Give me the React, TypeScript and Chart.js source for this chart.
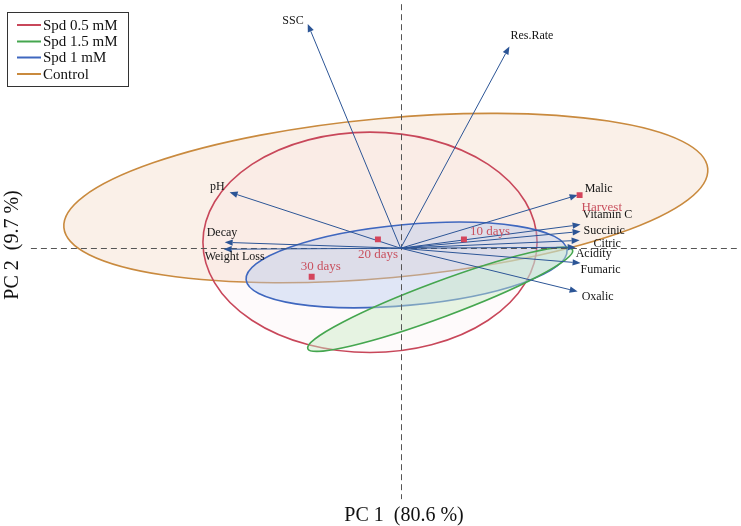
import { useEffect, useRef } from 'react';
import { Chart, registerables } from 'chart.js';

Chart.register(...registerables);

const W = 741;
const H = 526;

// Axis ranges (PC units)
const X_MIN = -4.01;
const X_MAX = 3.4;
const Y_MIN = -2.78;
const Y_MAX = 2.48;

// Variable loadings (arrows)
const variableNames = ['SSC', 'Res.Rate', 'pH', 'Decay', 'Weight Loss', 'Malic', 'Vitamin C', 'Succinic', 'Citric', 'Acidity', 'Fumaric', 'Oxalic'];
const loadingPC1 = [-0.94, 1.1, -1.73, -1.78, -1.79, 1.79, 1.82, 1.82, 1.81, 1.77, 1.82, 1.79];
const loadingPC2 = [2.28, 2.05, 0.57, 0.06, -0.01, 0.54, 0.24, 0.17, 0.08, 0.01, -0.15, -0.44];

// Sample scores
const sampleNames = ['Harvest', '10 days', '20 days', '30 days'];
const scorePC1 = [1.81, 0.64, -0.23, -0.9];
const scorePC2 = [0.54, 0.09, 0.09, -0.29];

// Group confidence ellipses
const groupNames = ['Spd 0.5 mM', 'Spd 1.5 mM', 'Spd 1 mM', 'Control'];
const ellipseCenterX = [-0.31, 0.4, 0.06, -0.15];
const ellipseCenterY = [0.06, -0.52, -0.17, 0.51];
const ellipseSemiMajor = [1.69, 1.43, 1.63, 3.27];
const ellipseSemiMinor = [1.12, 0.18, 0.41, 0.81];
const ellipseAngleDeg = [0, 20.5, 5.3, 5.26];

// Axis titles
const xTitle = 'PC 1  (80.6 %)';
const yTitle = 'PC 2  (9.7 %)';

// ---- styles ----
const groupStroke = ['#c8475a', '#45a64f', '#3f67bf', '#c98a3e'];
const groupFill = ['rgba(240,190,195,0.07)', 'rgba(200,232,195,0.45)', 'rgba(175,198,238,0.38)', 'rgba(245,222,205,0.45)'];
const ellipseDrawOrder = [3, 0, 2, 1];
const arrowColor = '#2c5596';
const scoreColor = '#d4455c';
const scoreLabelColor = '#c9515f';
const FONT = '"Liberation Serif", "DejaVu Serif", serif';

// label placement: [align, dx, dy] in px relative to arrow tip / point
const varLabelPos: [CanvasTextAlign, number, number][] = [
  ['right', -4, -3],
  ['left', 1, -11],
  ['right', -5, -5],
  ['left', -18, -9],
  ['left', -19, 8],
  ['left', 7, -6],
  ['left', 2, -10],
  ['left', 3, -1],
  ['left', 14, 3],
  ['left', 0, 7],
  ['left', 0, 7],
  ['left', 4, 5],
];
const scoreLabelPos: [CanvasTextAlign, number, number][] = [
  ['left', 2, 12],
  ['left', 6, -8],
  ['center', 0, 15],
  ['center', 9, -10],
];

const axisPlugin = {
  id: 'biplot',
  beforeDatasetsDraw(chart: any) {
    const { ctx, scales } = chart;
    const xs = scales.x;
    const ys = scales.y;
    const px = (v: number) => xs.getPixelForValue(v);
    const py = (v: number) => ys.getPixelForValue(v);
    const ux = px(1) - px(0);
    const uy = py(0) - py(1);

    // ellipses
    for (const i of ellipseDrawOrder) {
      ctx.save();
      ctx.beginPath();
      ctx.translate(px(ellipseCenterX[i]), py(ellipseCenterY[i]));
      ctx.scale(ux, -uy);
      ctx.rotate((ellipseAngleDeg[i] * Math.PI) / 180);
      ctx.ellipse(0, 0, ellipseSemiMajor[i], ellipseSemiMinor[i], 0, 0, Math.PI * 2);
      ctx.restore();
      ctx.save();
      ctx.fillStyle = groupFill[i];
      ctx.fill();
      ctx.lineWidth = 1.6;
      ctx.strokeStyle = groupStroke[i];
      ctx.stroke();
      ctx.restore();
    }

    // dashed zero axes
    ctx.save();
    ctx.setLineDash([6, 4]);
    ctx.strokeStyle = '#555';
    ctx.lineWidth = 1;
    ctx.beginPath();
    ctx.moveTo(Math.round(px(0)) + 0.5, chart.chartArea.top);
    ctx.lineTo(Math.round(px(0)) + 0.5, py(-2.55));
    ctx.moveTo(px(-3.74), Math.round(py(0)) + 0.5);
    ctx.lineTo(chart.chartArea.right, Math.round(py(0)) + 0.5);
    ctx.stroke();
    ctx.restore();

    // arrows
    ctx.save();
    ctx.strokeStyle = arrowColor;
    ctx.fillStyle = arrowColor;
    ctx.lineWidth = 1;
    const ox = px(0);
    const oy = py(0);
    for (let i = 0; i < variableNames.length; i++) {
      const tx = px(loadingPC1[i]);
      const ty = py(loadingPC2[i]);
      const ang = Math.atan2(ty - oy, tx - ox);
      const L = 8;
      const hw = 3.2;
      const bx = tx - L * Math.cos(ang);
      const by = ty - L * Math.sin(ang);
      ctx.beginPath();
      ctx.moveTo(ox, oy);
      ctx.lineTo(bx, by);
      ctx.stroke();
      ctx.beginPath();
      ctx.moveTo(tx, ty);
      ctx.lineTo(bx - hw * Math.sin(ang), by + hw * Math.cos(ang));
      ctx.lineTo(bx + hw * Math.sin(ang), by - hw * Math.cos(ang));
      ctx.closePath();
      ctx.fill();
    }
    ctx.restore();
  },
  afterDatasetsDraw(chart: any) {
    const { ctx, scales } = chart;
    const px = (v: number) => scales.x.getPixelForValue(v);
    const py = (v: number) => scales.y.getPixelForValue(v);

    ctx.save();
    ctx.textBaseline = 'middle';
    ctx.font = `12px ${FONT}`;
    ctx.fillStyle = '#151515';
    for (let i = 0; i < variableNames.length; i++) {
      const [al, dx, dy] = varLabelPos[i];
      ctx.textAlign = al;
      ctx.fillText(variableNames[i], px(loadingPC1[i]) + dx, py(loadingPC2[i]) + dy);
    }
    ctx.font = `13px ${FONT}`;
    ctx.fillStyle = scoreLabelColor;
    for (let i = 0; i < sampleNames.length; i++) {
      const [al, dx, dy] = scoreLabelPos[i];
      ctx.textAlign = al;
      ctx.fillText(sampleNames[i], px(scorePC1[i]) + dx, py(scorePC2[i]) + dy);
    }

    // axis titles
    ctx.fillStyle = '#111';
    ctx.font = `20px ${FONT}`;
    ctx.textAlign = 'center';
    ctx.textBaseline = 'alphabetic';
    ctx.fillText(xTitle, 404, 521);
    ctx.save();
    ctx.translate(18, 245);
    ctx.rotate(-Math.PI / 2);
    ctx.fillText(yTitle, 0, 0);
    ctx.restore();

    // legend
    ctx.fillStyle = '#fff';
    ctx.fillRect(7.5, 12.5, 121, 74);
    ctx.strokeStyle = '#333';
    ctx.lineWidth = 1;
    ctx.strokeRect(7.5, 12.5, 121, 74);
    ctx.font = `15px ${FONT}`;
    ctx.textAlign = 'left';
    ctx.textBaseline = 'middle';
    const rows = [25, 41.5, 57.5, 74];
    for (let i = 0; i < groupNames.length; i++) {
      ctx.strokeStyle = groupStroke[i];
      ctx.lineWidth = 2;
      ctx.beginPath();
      ctx.moveTo(17, rows[i]);
      ctx.lineTo(41, rows[i]);
      ctx.stroke();
      ctx.fillStyle = '#111';
      ctx.fillText(groupNames[i], 43, rows[i] + 1);
    }
    ctx.restore();
  },
};

export default function App() {
  const ref = useRef<HTMLCanvasElement | null>(null);
  useEffect(() => {
    document.body.style.margin = '0';
    const canvas = ref.current;
    if (!canvas) return;
    const chart = new Chart(canvas, {
      type: 'scatter',
      data: {
        datasets: [
          {
            label: 'Scores',
            data: sampleNames.map((_, i) => ({ x: scorePC1[i], y: scorePC2[i] })),
            pointStyle: 'rect',
            pointRadius: 4.2,
            backgroundColor: scoreColor,
            borderColor: scoreColor,
            borderWidth: 0,
          },
          {
            label: 'Loadings',
            data: variableNames.map((_, i) => ({ x: loadingPC1[i], y: loadingPC2[i] })),
            pointRadius: 0,
          },
        ],
      },
      options: {
        responsive: false,
        animation: false,
        layout: { padding: 0 },
        scales: {
          x: { type: 'linear', min: X_MIN, max: X_MAX, display: false },
          y: { type: 'linear', min: Y_MIN, max: Y_MAX, display: false },
        },
        plugins: { legend: { display: false }, tooltip: { enabled: false } },
      },
      plugins: [axisPlugin],
    });
    return () => chart.destroy();
  }, []);
  return (
    <div style={{ width: W, height: H }}>
      <canvas ref={ref} width={W} height={H} style={{ display: 'block' }} />
    </div>
  );
}
